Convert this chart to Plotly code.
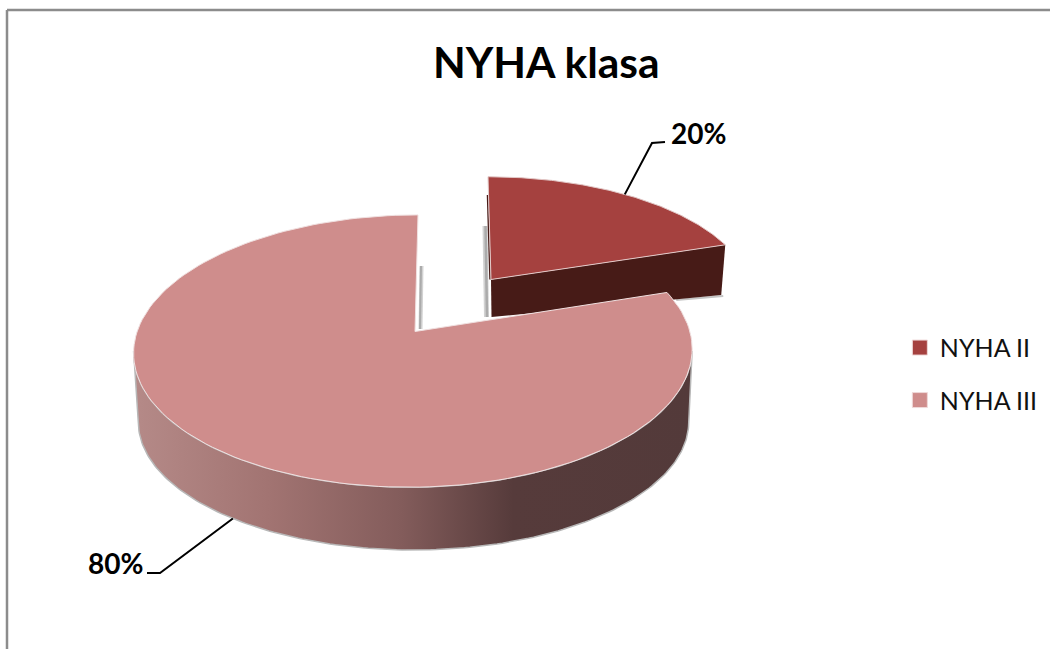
import math
import plotly.graph_objects as go

# ---- data ----
categories = ["NYHA II", "NYHA III"]
values = [20, 80]
labels = ["20%", "80%"]
title = "NYHA klasa"

# ---- styles ----
COL_II = "#A5413F"
COL_II_SIDE = "#471B17"
COL_III = "#CF8D8C"
FONT = "Lato"

# ---- perspective geometry of the 3D pie, in pixels ----
def project(theta, g):
    u, v = math.sin(theta), math.cos(theta)
    d = 1 + g["c"] * v
    return (g["cx"] + g["R"] * u / d + g["skew"] * v,
            (g["a"] * v + g["b"]) / d)

def arc(t0, t1, g, n=160):
    pts = [project(t0 + (t1 - t0) * i / n, g) for i in range(n + 1)]
    return [p[0] for p in pts], [p[1] for p in pts]

MAIN_TOP = dict(cx=413.5, R=276.5, c=0.14, a=-87.0, b=332.0, skew=4.5)
MAIN_BOT = dict(cx=413.5, R=272.5, c=0.14, a=-69.0, b=404.0, skew=0.0)
II_TOP = dict(cx=491.0, R=258.0, c=0.14, a=-78.0, b=279.5, skew=-3.0)
II_BOT = dict(cx=491.5, R=252.0, c=0.14, a=-30.0, b=317.0, skew=0.0)

total = sum(values)
split = 2 * math.pi * values[0] / total
mid_ii = split / 2
mid_iii = split + (2 * math.pi - split) / 2

fig = go.Figure()

def poly(xs, ys, fill=None, line=None, width=0, grad=None):
    fig.add_trace(go.Scatter(
        x=xs, y=ys, mode="lines", fill="toself",
        fillcolor=fill, fillgradient=grad,
        line=dict(color=line or "rgba(0,0,0,0)", width=width),
        showlegend=False, hoverinfo="skip"))

def stroke(xs, ys, color, width):
    fig.add_trace(go.Scatter(
        x=xs, y=ys, mode="lines", line=dict(color=color, width=width),
        showlegend=False, hoverinfo="skip"))

# soft shadows behind the cut faces
a_top = project(0, II_TOP)
stroke([a_top[0] - 3, a_top[0] - 1.5], [226, 317], "#D2D2D2", 5)
stroke([a_top[0] - 2.5, a_top[0] - 1], [226, 317], "#ABABAB", 2.5)
stroke([421.5, 420.5], [266, 329], "#D2D2D2", 4)
stroke([421, 420], [266, 329], "#ABABAB", 2)

# NYHA II: exploded slice
ax, ay = II_TOP["cx"], II_TOP["b"]
bx, by = II_BOT["cx"], II_BOT["b"]
c_top = project(split, II_TOP)
c_bot = project(split, II_BOT)
stroke([c_bot[0] - 45, c_bot[0] + 2], [c_bot[1] + 5, c_bot[1] + 1], "#C4C4C4", 2)
poly([ax, c_top[0], c_bot[0], bx, ax], [ay, c_top[1], c_bot[1], by, ay], fill=COL_II_SIDE)
stroke([a_top[0] - 0.5, ax - 1], [195, ay], COL_II_SIDE, 1.5)
xs, ys = arc(0, split, II_TOP)
poly([ax] + xs + [ax], [ay] + ys + [ay], fill=COL_II, line="#E3C9C8", width=1)

# NYHA III: side wall with its horizontal gradient, then the top face
t0, t1 = math.radians(98), math.radians(262)
xt, yt = arc(t0, t1, MAIN_TOP)
xb, yb = arc(t0, t1, MAIN_BOT)
poly(xt + xb[::-1] + [xt[0]], yt + yb[::-1] + [yt[0]],
     line="#B8B8B8", width=1.5,
     grad=dict(type="horizontal", colorscale=[
         [0.0, "#B58A88"], [0.24, "#A27472"], [0.48, "#835C5B"],
         [0.68, "#563B3B"], [1.0, "#533A3A"]]))
xs, ys = arc(split, 2 * math.pi, MAIN_TOP)
mx, my = 415.0, 331.5
poly([mx] + xs + [mx], [my] + ys + [my], fill=COL_III, line="#F0E0E0", width=1)

# leader lines start on the pie at each slice's middle angle
p20 = project(mid_ii, II_TOP)
stroke([p20[0], 652, 665], [p20[1], 143, 142], "#000000", 2)
p80 = project(mid_iii, MAIN_BOT)
stroke([p80[0], 160, 147], [p80[1], 573, 573], "#000000", 2)

# legend entries
for i, (name, col) in enumerate(zip(categories, [COL_II, COL_III])):
    fig.add_trace(go.Scatter(
        x=[None], y=[None], mode="markers", name=name, legendgroup=name,
        marker=dict(symbol="square", size=15, color=col,
                    line=dict(color="#EFD9D9", width=1))))

fig.update_layout(
    width=1050, height=649,
    margin=dict(l=0, r=0, t=0, b=0),
    paper_bgcolor="white", plot_bgcolor="white",
    xaxis=dict(range=[0, 1050], visible=False, fixedrange=True),
    yaxis=dict(range=[649, 0], visible=False, fixedrange=True),
    legend=dict(x=0.857, y=0.424, xanchor="left", yanchor="middle",
                font=dict(family=FONT, size=25, color="#111111"),
                tracegroupgap=17, bgcolor="rgba(0,0,0,0)", itemwidth=30),
    annotations=[
        dict(x=546, y=61, text=f"<b>{title}</b>", showarrow=False,
             xref="x", yref="y", font=dict(family=FONT, size=42.5, color="#000000")),
        dict(x=698, y=133, text=f"<b>{labels[0]}</b>", showarrow=False,
             xref="x", yref="y", font=dict(family=FONT, size=28, color="#000000")),
        dict(x=115, y=563, text=f"<b>{labels[1]}</b>", showarrow=False,
             xref="x", yref="y", font=dict(family=FONT, size=28, color="#000000")),
    ],
    shapes=[
        dict(type="line", xref="x", yref="y", x0=7, x1=1050, y0=10, y1=10,
             line=dict(color="#8C8C8C", width=2.5)),
        dict(type="line", xref="x", yref="y", x0=7, x1=7, y0=10, y1=649,
             line=dict(color="#8C8C8C", width=2.5)),
    ],
)

fig.write_html("out.html", config={"displayModeBar": False},
               post_script="document.body.style.margin='0';document.documentElement.style.overflow='hidden';")
